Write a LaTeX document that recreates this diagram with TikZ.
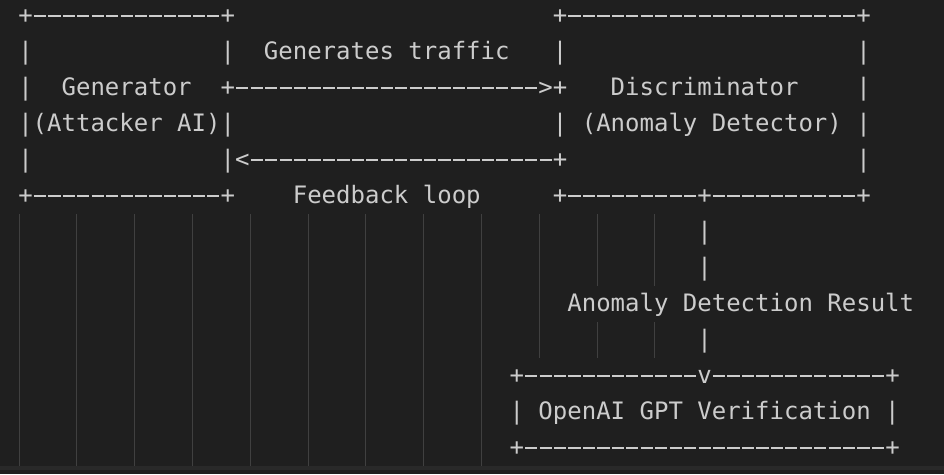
\documentclass[tikz,border=0pt]{standalone}
\usepackage{fontspec}
\newfontfamily\codefont{DejaVu Sans Mono}
\definecolor{bg}{HTML}{1F1F1F}
\definecolor{fg}{HTML}{CCCCCC}
\definecolor{guide}{HTML}{404040}
\definecolor{band}{HTML}{292929}
\ExplSyntaxOn
\NewDocumentCommand\RepX{mm}{\prg_replicate:nn{#1}{#2}}
\ExplSyntaxOff
\newcommand\OneDash{\makebox[14.449pt][c]{\rule[6.4pt]{12.2pt}{1.9pt}}}
\newcommand\Dsh[1]{\RepX{#1}{\OneDash}}
\newcommand\Spc[1]{\RepX{#1}{\ }}
\frenchspacing
\begin{document}
\begin{tikzpicture}[x=1pt,y=-1pt,
  code/.style={font=\codefont\fontsize{24}{36}\selectfont, text=fg, inner sep=0pt, outer sep=0pt, anchor=base west},
  guideline/.style={draw=guide, line width=1pt}]
\def\xz{18.3}
\def\cw{14.449}
\fill[bg] (0,0) rectangle (944,474);
\useasboundingbox (0,0) rectangle (944,474);
\fill[band] (0,466) rectangle (944,469.5);
% indent guides
\foreach \k in {0,...,8} {\draw[guideline] (19+57.8*\k,214) -- (19+57.8*\k,466);}
\draw[guideline] (19+57.8*9,214) -- (19+57.8*9,358);
\foreach \k in {10,11} {
  \draw[guideline] (19+57.8*\k,214) -- (19+57.8*\k,286);
  \draw[guideline] (19+57.8*\k,322) -- (19+57.8*\k,358);}
% ASCII lines
\node[code] (l1) at (\xz,23.5) {+\Dsh{13}+\Spc{22}+\Dsh{20}+};
\node[code] (l2) at (\xz,59.5) {|\Spc{13}|\Spc{2}Generates traffic\Spc{3}|\Spc{20}|};
\node[code] (l3) at (\xz,95.5) {|\Spc{2}Generator\Spc{2}+\Dsh{21}>+\Spc{3}Discriminator\Spc{4}|};
\node[code] (l4) at (\xz,131.5) {|(Attacker AI)|\Spc{22}|\ (Anomaly Detector)\ |};
\node[code] (l5) at (\xz,167.5) {|\Spc{13}|<\Dsh{21}+\Spc{20}|};
\node[code] (l6) at (\xz,203.5) {+\Dsh{13}+\Spc{4}Feedback loop\Spc{5}+\Dsh{9}+\Dsh{10}+};
\node[code] (l7) at (\xz+47*\cw,239.5) {|};
\node[code] (l8) at (\xz+47*\cw,275.5) {|};
\node[code] (l9) at (\xz+38*\cw,311.5) {Anomaly Detection Result};
\node[code] (l10) at (\xz+47*\cw,347.5) {|};
\node[code] (l11) at (\xz+34*\cw,383.5) {+\Dsh{12}v\Dsh{12}+};
\node[code] (l12) at (\xz+34*\cw,419.5) {|\ OpenAI GPT Verification\ |};
\node[code] (l13) at (\xz+34*\cw,455.5) {+\Dsh{25}+};
\end{tikzpicture}
\end{document}
